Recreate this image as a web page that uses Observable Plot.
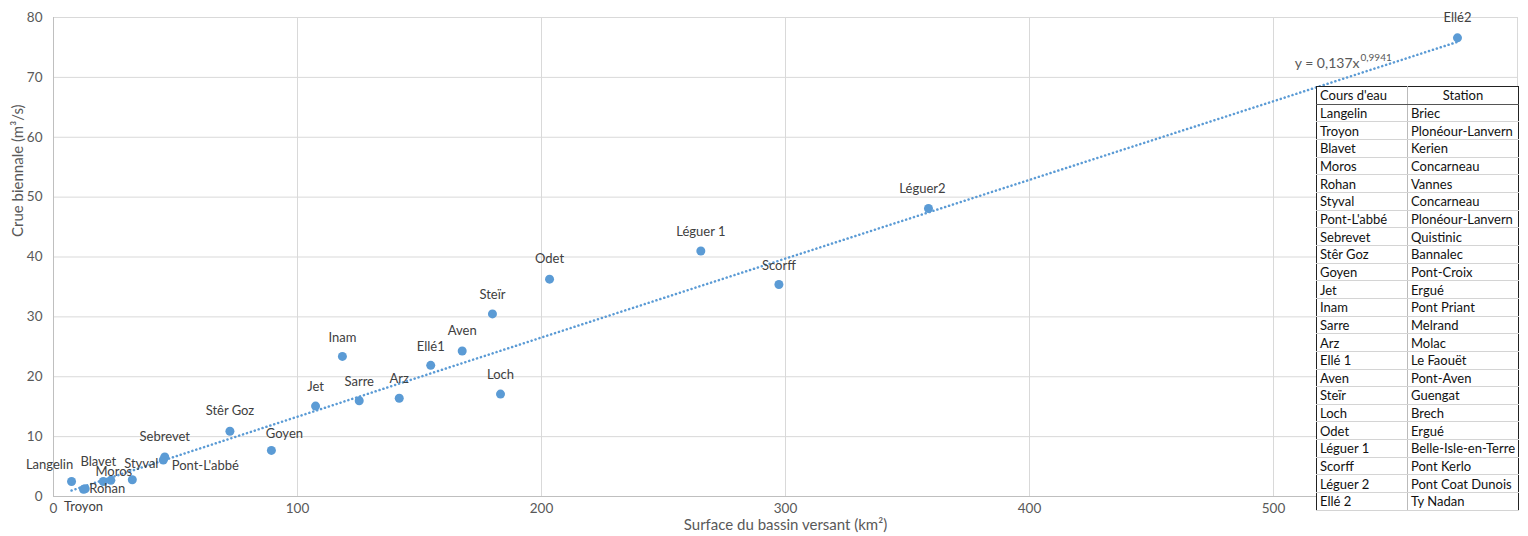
<!DOCTYPE html>
<html>
<head>
<meta charset="utf-8">
<script src="https://cdn.jsdelivr.net/npm/d3@7"></script>
<script src="https://cdn.jsdelivr.net/npm/@observablehq/plot@0.6"></script>
<style>
  html, body { margin: 0; padding: 0; background: #fff; }
  #wrap { position: relative; width: 1528px; height: 536px; font-family: Lato, "Open Sans", sans-serif; }
  #tbl { position: absolute; left: 1316px; top: 86px; border-collapse: collapse; font-family: Lato, sans-serif; font-size: 13px; color: #111; background: #fff; border: 1px solid #222; }
  #tbl td { height: 16.67px; padding: 0 3px; line-height: 16px; border-bottom: 1px solid #d4d4d4; white-space: nowrap; }
  #tbl td:first-child { width: 84px; border-right: 1px solid #bbb; }
  #tbl td:last-child { width: 104px; }
  #tbl tr.h td { border-bottom: 1px solid #555; }
  #tbl tr.h td:last-child { text-align: center; }
</style>
</head>
<body>
<div id="wrap"></div>
<script>
// ---- data ----
const labels = ["Langelin","Troyon","Blavet","Moros","Rohan","Styval","Pont-L'abbé","Sebrevet","Stêr Goz","Goyen","Jet","Inam","Sarre","Arz","Ellé1","Aven","Steïr","Loch","Odet","Léguer 1","Scorff","Léguer2","Ellé2"];
const surface = [7.4, 12.3, 20.4, 23.5, 13.0, 32.3, 45.0, 45.6, 72.3, 89.3, 107.4, 118.4, 125.3, 141.7, 154.6, 167.5, 179.9, 183.2, 203.3, 265.3, 297.3, 358.6, 575.4];
const crue = [2.5, 1.2, 2.5, 2.7, 1.3, 2.8, 6.1, 6.6, 10.9, 7.7, 15.1, 23.4, 16.0, 16.4, 21.9, 24.3, 30.5, 17.1, 36.3, 41.0, 35.4, 48.1, 76.6];
// label offsets (style)
const labelDx = [-22, 0, -5, 3, 22, 9, 42, 0, 0, 13, 0, 0, 0, 0, 0, 0, 0, 0, 0, 0, 0, -6, 0];
const labelDy = [-17, 18, -20, -9, 0, -16, 6, -20, -20, -17, -19, -19, -19, -19, -19, -20, -19, -19, -20, -19, -19, -20, -20];

const coursDeau = ["Langelin","Troyon","Blavet","Moros","Rohan","Styval","Pont-L'abbé","Sebrevet","Stêr Goz","Goyen","Jet","Inam","Sarre","Arz","Ellé 1","Aven","Steïr","Loch","Odet","Léguer 1","Scorff","Léguer 2","Ellé 2"];
const stations = ["Briec","Plonéour-Lanvern","Kerien","Concarneau","Vannes","Concarneau","Plonéour-Lanvern","Quistinic","Bannalec","Pont-Croix","Ergué","Pont Priant","Melrand","Molac","Le Faouët","Pont-Aven","Guengat","Brech","Ergué","Belle-Isle-en-Terre","Pont Kerlo","Pont Coat Dunois","Ty Nadan"];
const tableHeader = ["Cours d'eau", "Station"];

const xTicks = [0, 100, 200, 300, 400, 500, 600];
const xTickLabels = ["0", "100", "200", "300", "400", "500", ""];
const yTicks = [0, 10, 20, 30, 40, 50, 60, 70, 80];

const trendCoef = 0.137, trendExp = 0.9941;
const equationText = "y = 0,137x", equationExp = "0,9941";
const xTitle = "Surface du bassin versant (km²)";
const yTitle = "Crue biennale (m³/s)";

// ---- build ----
const pts = labels.map((l, i) => ({label: l, x: surface[i], y: crue[i], dx: labelDx[i], dy: labelDy[i]}));
const trend = [...surface].sort((a, b) => a - b).map(x => ({x, y: trendCoef * Math.pow(x, trendExp)}));

const blue = "#5B9BD5";
const plot = Plot.plot({
  width: 1528,
  height: 536,
  marginLeft: 53,
  marginRight: 11,
  marginTop: 17,
  marginBottom: 40,
  style: {fontFamily: "Lato, sans-serif", fontSize: "13.5px", color: "#595959", background: "transparent"},
  x: {domain: [0, 600], ticks: xTicks, tickFormat: (d) => xTickLabels[xTicks.indexOf(d)], tickSize: 0, tickPadding: 7, label: null},
  y: {domain: [0, 80], ticks: yTicks, tickSize: 0, tickPadding: 11, label: null},
  marks: [
    Plot.gridX(xTicks, {stroke: "#D9D9D9", strokeOpacity: 1}),
    Plot.gridY(yTicks, {stroke: "#D9D9D9", strokeOpacity: 1}),
    Plot.ruleX([0], {stroke: "#BFBFBF"}),
    Plot.ruleY([0], {stroke: "#BFBFBF"}),
    Plot.line(trend, {x: "x", y: "y", stroke: blue, strokeWidth: 2.5, strokeDasharray: "0.1,4", strokeLinecap: "round"}),
    Plot.dot(pts, {x: "x", y: "y", r: 4.5, fill: blue, stroke: "none"}),
    ...pts.map(p => Plot.text([p], {x: "x", y: "y", text: "label", dx: p.dx, dy: p.dy, fill: "#404040", fontSize: 13})),
    Plot.text([equationText], {frameAnchor: "top-right", text: d => d, dx: -158, dy: 41, textAnchor: "end", fill: "#595959", fontSize: 14}),
    Plot.text([equationExp], {frameAnchor: "top-right", text: d => d, dx: -157, dy: 36, textAnchor: "start", fill: "#595959", fontSize: 10}),
    Plot.text([xTitle], {frameAnchor: "bottom", text: d => d, dy: 33, fill: "#595959", fontSize: 15}),
    Plot.text([yTitle], {frameAnchor: "left", text: d => d, dx: -35, dy: -20, rotate: -90, fill: "#595959", fontSize: 15})
  ]
});

const wrap = document.getElementById("wrap");
wrap.appendChild(plot);

// table overlay
const tbl = document.createElement("table");
tbl.id = "tbl";
const hr = tbl.insertRow();
hr.className = "h";
tableHeader.forEach(h => { const c = hr.insertCell(); c.textContent = h; });
coursDeau.forEach((c, i) => {
  const r = tbl.insertRow();
  r.insertCell().textContent = c;
  r.insertCell().textContent = stations[i];
});
wrap.appendChild(tbl);
</script>
</body>
</html>
